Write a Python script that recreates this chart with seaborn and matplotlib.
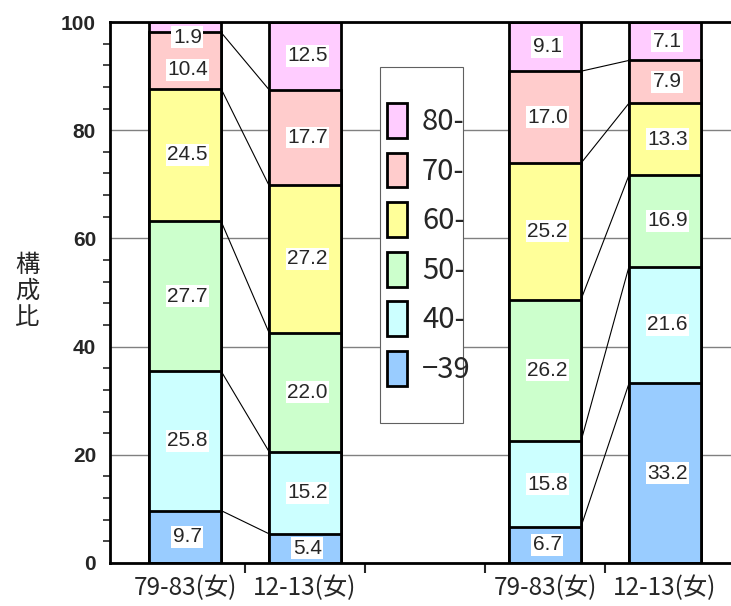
import numpy as np
import pandas as pd
import seaborn as sns
import matplotlib.pyplot as plt
from matplotlib.patches import Patch, Rectangle

# age classes, bottom to top
ages = ["-39", "40-", "50-", "60-", "70-", "80-"]
legend_labels = ["80-", "70-", "60-", "50-", "40-", "−39"]
colors = ["#99CCFF", "#CCFFFF", "#CCFFCC", "#FFFF99", "#FFCCCC", "#FFCCFF"]

# bar labels and positions (gap between the two pairs)
bar_labels = ["79-83(女)", "12-13(女)", "79-83(女)", "12-13(女)"]
bar_pos = [0, 1, 3, 4]

# shares (%) per bar, bottom to top
share_1 = [9.7, 25.8, 27.7, 24.5, 10.4, 1.9]
share_2 = [5.4, 15.2, 22.0, 27.2, 17.7, 12.5]
share_3 = [6.7, 15.8, 26.2, 25.2, 17.0, 9.1]
share_4 = [33.2, 21.6, 16.9, 13.3, 7.9, 7.1]

shares = [share_1, share_2, share_3, share_4]

rows = []
for pos, s in zip(bar_pos, shares):
    tops = np.cumsum(s)
    for age, v, t in zip(ages, s, tops):
        rows.append({"pos": pos, "age": age, "value": v, "top": t, "bottom": t - v})
df = pd.DataFrame(rows)

sns.set_style("white")
W, H = 731, 606
fig = plt.figure(figsize=(W / 100, H / 100), dpi=100)
ax = fig.add_axes([110 / W, 43 / H, 621 / W, 541 / H])

# stacked bars: draw cumulative tops from the top layer downwards
for age, col in list(zip(ages, colors))[::-1]:
    sub = df[df["age"] == age]
    sns.barplot(data=sub, x="pos", y="top", native_scale=True, color=col,
                saturation=1, edgecolor="black", linewidth=2, width=0.6,
                errorbar=None, ax=ax, zorder=2)

# thin connector lines between pairs
hw = 0.3
for a, b in [(0, 1), (3, 4)]:
    ta = df[df["pos"] == a]["top"].values[:-1]
    tb = df[df["pos"] == b]["top"].values[:-1]
    for y0, y1 in zip(ta, tb):
        ax.plot([a + hw, b - hw], [y0, y1], color="black", lw=0.8, zorder=1.5)

# value labels
for pos in bar_pos:
    sub = df[df["pos"] == pos].iloc[::-1]
    prev = 100 - 2.8
    for _, r in sub.iterrows():
        y = min((r["top"] + r["bottom"]) / 2, prev)
        prev = y - 6
        ax.text(pos + 0.02, y, f"{r['value']:.1f}", ha="center", va="center",
                fontsize=15, family="Liberation Sans", zorder=4,
                bbox=dict(facecolor="white", edgecolor="none", pad=1))

ax.set_xlim(-0.625, 4.55)
ax.set_ylim(0, 100)
ax.set_xlabel("")
ax.set_ylabel("")

ax.set_yticks(np.arange(0, 101, 20))
ax.set_yticks(np.arange(0, 101, 4), minor=True)
ax.set_yticklabels([str(v) for v in range(0, 101, 20)], fontsize=15,
                   fontweight="bold", family="Liberation Sans")
ax.tick_params(axis="y", which="major", direction="out", length=8, width=1.5, pad=2)
ax.tick_params(axis="y", which="minor", direction="out", length=5, width=1.2, left=True)

ax.set_xticks(bar_pos)
ax.set_xticklabels(bar_labels, fontsize=17.5, family="Noto Sans CJK JP")
ax.set_xticks([0.5, 1.5, 2.5, 3.5], minor=True)
ax.tick_params(axis="x", which="major", length=0, pad=9)
ax.tick_params(axis="x", which="minor", direction="out", length=7, width=1.5, bottom=True)

ax.set_axisbelow(True)
ax.yaxis.grid(True, which="major", color="#808080", lw=1, zorder=0)
ax.xaxis.grid(False)

for side in ["left", "bottom", "top"]:
    ax.spines[side].set_visible(True)
    ax.spines[side].set_color("black")
    ax.spines[side].set_linewidth(2)
ax.spines["right"].set_visible(False)

fig.text(27 / W, 1 - 291 / H, "構\n成\n比", ha="center", va="center",
         fontsize=17.5, family="Noto Sans CJK JP", linespacing=1.0)

# legend box and entries
box = Rectangle((380 / W, 1 - 423 / H), 83 / W, 356 / H, transform=fig.transFigure,
                facecolor="white", edgecolor="#606060", lw=0.8, zorder=3)
ax.add_artist(box)
box.set_clip_on(False)

handles = [Patch(facecolor=c, edgecolor="black", linewidth=2)
           for c in colors[::-1]]
fs = 21
em = fs * 100 / 72
leg = ax.legend(handles, legend_labels,
                loc="upper left", bbox_to_anchor=(387 / W, 1 - 103 / H),
                bbox_transform=fig.transFigure, frameon=False, borderpad=0,
                borderaxespad=0, prop={"family": "Noto Sans CJK JP", "size": fs},
                handlelength=20 / em, handleheight=1.467,
                labelspacing=0.5, handletextpad=15 / em)
leg.set_zorder(5)

fig.savefig("out.png", dpi=100)
